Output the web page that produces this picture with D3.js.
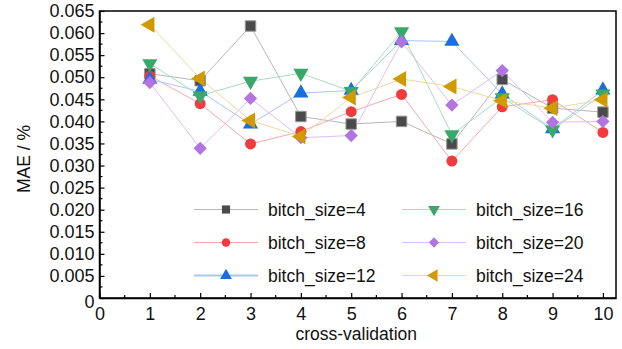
<!DOCTYPE html>
<html>
<head>
<meta charset="utf-8">
<script src="https://cdn.jsdelivr.net/npm/d3@7"></script>
<style>
  body { margin: 0; background: #fff; }
  svg text { font-family: 'Liberation Sans', Arial, sans-serif; fill: #111; }
</style>
</head>
<body>
<div id="chart"></div>
<script>
const folds = [1, 2, 3, 4, 5, 6, 7, 8, 9, 10];
const seriesNames = ['bitch_size=4', 'bitch_size=8', 'bitch_size=12', 'bitch_size=16', 'bitch_size=20', 'bitch_size=24'];

const bs4 = [0.0508, 0.0492, 0.0616, 0.0411, 0.0394, 0.0400, 0.0349, 0.0495, 0.0430, 0.0421];
const bs8 = [0.0503, 0.0440, 0.0349, 0.0377, 0.0422, 0.0461, 0.0310, 0.0433, 0.0449, 0.0375];
const bs12 = [0.0495, 0.0468, 0.0394, 0.0464, 0.0470, 0.0583, 0.0581, 0.0462, 0.0383, 0.0471];
const bs16 = [0.0531, 0.0458, 0.0491, 0.0509, 0.0468, 0.0603, 0.0370, 0.0454, 0.0381, 0.0462];
const bs20 = [0.0488, 0.0339, 0.0452, 0.0363, 0.0368, 0.0580, 0.0437, 0.0515, 0.0398, 0.0400];
const bs24 = [0.0619, 0.0497, 0.0402, 0.0366, 0.0454, 0.0496, 0.0479, 0.0447, 0.0430, 0.0449];

const xTicks = [0, 1, 2, 3, 4, 5, 6, 7, 8, 9, 10];
const yTicks = [0, 0.005, 0.01, 0.015, 0.02, 0.025, 0.03, 0.035, 0.04, 0.045, 0.05, 0.055, 0.06, 0.065];

const allSeries = [bs4, bs8, bs12, bs16, bs20, bs24];
const fills = ['#4a4a4a', '#f03c3c', '#1a6ee0', '#3aa86b', '#b274e0', '#d09a00'];
const lineColors = ['#b8b8b8', '#f5aaaa', '#a9c8f0', '#a9dcbd', '#dcc0f2', '#eed9a0'];
const shapes = [d3.symbolSquare, d3.symbolCircle, d3.symbolTriangle, d3.symbolTriangle, d3.symbolSquare, d3.symbolTriangle];
const rotations = [0, 0, 0, 180, 45, -90];
const sizes = [110, 95, 100, 100, 88, 110];

const width = 622, height = 349;
const margin = { top: 11, right: 6, bottom: 51, left: 99.5 };

const svg = d3.select('#chart')
  .append('svg')
  .attr('width', width)
  .attr('height', height);

const x = d3.scaleLinear()
  .domain([0, 10.26])
  .range([margin.left, width - margin.right]);

const y = d3.scaleLinear()
  .domain([0, 0.065])
  .range([height - margin.bottom, margin.top]);

// frame
svg.append('rect')
  .attr('x', x(0))
  .attr('y', y(0.065))
  .attr('width', x(10.26) - x(0))
  .attr('height', y(0) - y(0.065))
  .attr('fill', 'none')
  .attr('stroke', '#000')
  .attr('stroke-width', 1.5);

// minor ticks
const xMinor = d3.range(0.5, 10.3, 1);
const yMinor = d3.range(0.0025, 0.065, 0.005);

svg.append('g')
  .attr('transform', 'translate(0,' + y(0) + ')')
  .selectAll('line')
  .data(xMinor)
  .enter()
  .append('line')
  .attr('x1', d => x(d)).attr('x2', d => x(d))
  .attr('y1', 0).attr('y2', -3)
  .attr('stroke', '#000').attr('stroke-width', 1.2);

svg.append('g')
  .attr('transform', 'translate(' + x(0) + ',0)')
  .selectAll('line')
  .data(yMinor)
  .enter()
  .append('line')
  .attr('y1', d => y(d)).attr('y2', d => y(d))
  .attr('x1', 0).attr('x2', 3)
  .attr('stroke', '#000').attr('stroke-width', 1.2);

// axes
const xAxis = svg.append('g')
  .attr('transform', 'translate(0,' + y(0) + ')')
  .call(d3.axisBottom(x).tickValues(xTicks).tickSizeInner(-5).tickSizeOuter(0).tickPadding(9).tickFormat(d3.format('d')));

const yAxis = svg.append('g')
  .attr('transform', 'translate(' + x(0) + ',0)')
  .call(d3.axisLeft(y).tickValues(yTicks).tickSizeInner(-5).tickSizeOuter(0).tickPadding(5)
    .tickFormat(d => d === 0 ? '0' : d3.format('.3f')(d)));

[xAxis, yAxis].forEach(a => {
  a.select('.domain').attr('stroke', '#000').attr('stroke-width', 1.5);
  a.selectAll('.tick line').attr('stroke', '#000').attr('stroke-width', 1.2);
  a.selectAll('text').style('font-size', '18px').attr('fill', '#111');
});
yAxis.selectAll('.tick').filter(d => d === 0).select('text').attr('dy', '0.5em');

// axis titles
svg.append('text')
  .attr('x', x(5.1))
  .attr('y', 340)
  .attr('text-anchor', 'middle')
  .style('font-size', '17.5px')
  .text('cross-validation');

svg.append('text')
  .attr('transform', 'translate(30,' + 159 + ')rotate(-90)')
  .attr('text-anchor', 'middle')
  .style('font-size', '17.5px')
  .text('MAE / %');

// lines
const line = d3.line()
  .x((d, i) => x(folds[i]))
  .y(d => y(d));

allSeries.forEach((s, k) => {
  svg.append('path')
    .datum(s)
    .attr('d', line)
    .attr('fill', 'none')
    .attr('stroke', lineColors[k])
    .attr('stroke-width', 1);
});

// markers
allSeries.forEach((s, k) => {
  svg.append('g')
    .selectAll('path')
    .data(s)
    .enter()
    .append('path')
    .attr('d', d3.symbol().type(shapes[k]).size(sizes[k]))
    .attr('transform', (d, i) => 'translate(' + x(folds[i]) + ',' + y(d) + ')rotate(' + rotations[k] + ')')
    .attr('fill', fills[k])
    .attr('stroke', k === 0 ? '#999' : 'none')
    .attr('stroke-width', 1);
});

// legend
const legend = svg.append('g');
seriesNames.forEach((name, k) => {
  const col = Math.floor(k / 3);
  const row = k % 3;
  const lx = 194 + col * 208;
  const ly = 209.5 + row * 33;
  const g = legend.append('g').attr('transform', 'translate(' + lx + ',' + ly + ')');
  g.append('line')
    .attr('x1', 0).attr('x2', 64)
    .attr('y1', 0).attr('y2', 0)
    .attr('stroke', lineColors[k])
    .attr('stroke-width', k === 2 ? 2 : 1.2);
  g.append('path')
    .attr('d', d3.symbol().type(shapes[k]).size(sizes[k] * 0.6))
    .attr('transform', 'translate(32,0)rotate(' + rotations[k] + ')')
    .attr('fill', fills[k]);
  g.append('text')
    .attr('x', 74)
    .attr('y', 0)
    .attr('dy', '0.35em')
    .style('font-size', '17.5px')
    .text(name);
});
</script>
</body>
</html>
